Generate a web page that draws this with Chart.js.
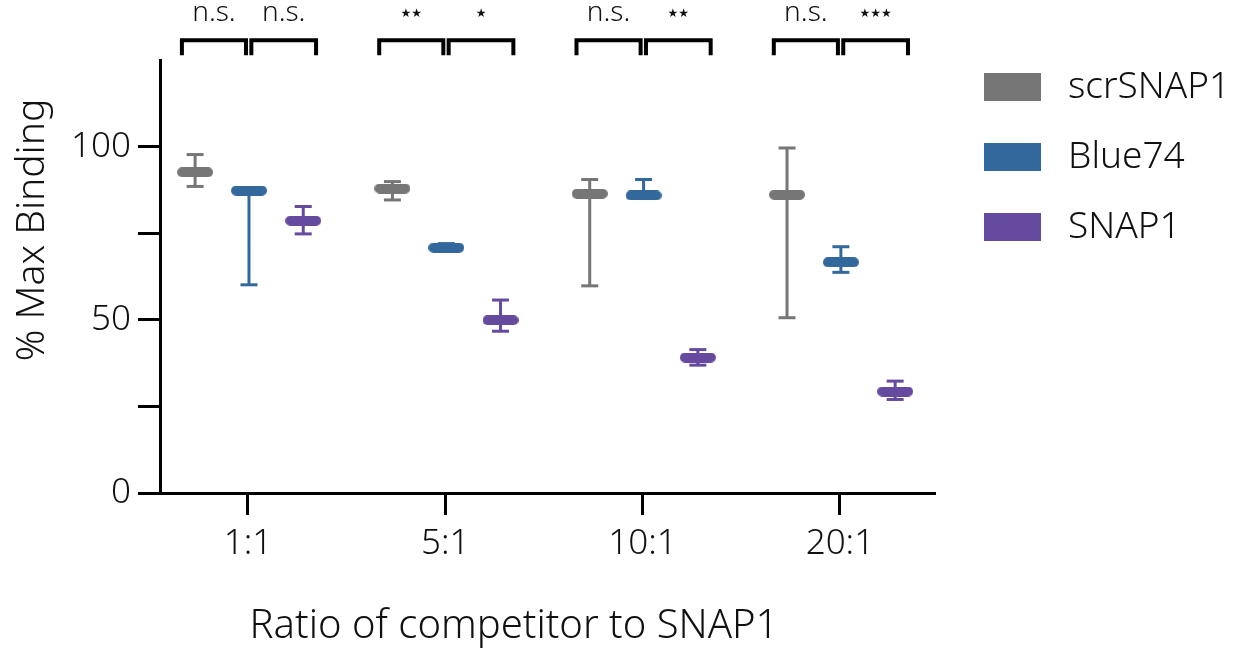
<!DOCTYPE html>
<html>
<head>
<meta charset="utf-8">
<script src="https://cdn.jsdelivr.net/npm/chart.js@4.4.1/dist/chart.umd.min.js"></script>
<style>
  html, body { margin: 0; padding: 0; background: #fff; }
  #wrap { width: 1246px; height: 651px; }
</style>
</head>
<body>
<div id="wrap"><canvas id="c" width="1246" height="651"></canvas></div>
<script>
// data
const ratios = ['1:1', '5:1', '10:1', '20:1'];
const seriesNames = ['scrSNAP1', 'Blue74', 'SNAP1'];
const seriesColors = ['#767676', '#33689c', '#664a9f'];

const scrMean = [92.6, 87.9, 86.4, 86.1];
const scrLow  = [88.5, 84.6, 59.8, 50.6];
const scrHigh = [97.7, 89.9, 90.5, 99.6];

const blueMean = [87.3, 70.8, 85.9, 66.6];
const blueLow  = [60.1, 70.3, 85.9, 63.7];
const blueHigh = [87.3, 72.0, 90.5, 71.1];

const snapMean = [78.6, 49.9, 39.1, 29.3];
const snapLow  = [74.8, 46.7, 36.9, 27.0];
const snapHigh = [82.7, 55.7, 41.4, 32.3];

// significance: [scr vs Blue74, Blue74 vs SNAP1] per ratio
const sigLabels = [['n.s.', 'n.s.'], ['**', '*'], ['n.s.', '**'], ['n.s.', '***']];

const yTicks = [0, 25, 50, 75, 100];
const xTitle = 'Ratio of competitor to SNAP1';
const yTitle = '% Max Binding';

const means = [scrMean, blueMean, snapMean];
const lows = [scrLow, blueLow, snapLow];
const highs = [scrHigh, blueHigh, snapHigh];
const offsets = [-0.268, 0.005, 0.28];

const FONT = "'Noto Sans', sans-serif";

// rounded pill used as the mean marker
function pill(color) {
  const cv = document.createElement('canvas');
  cv.width = 36; cv.height = 10;
  const g = cv.getContext('2d');
  g.fillStyle = color;
  g.beginPath();
  g.roundRect(0, 0, 36, 10, 5);
  g.fill();
  return cv;
}

const datasets = [];
// means first so they are drawn on top
means.forEach((m, s) => {
  datasets.push({
    type: 'scatter',
    label: seriesNames[s],
    data: m.map((v, i) => ({ x: i + offsets[s], y: v })),
    pointStyle: pill(seriesColors[s]),
    pointRadius: 5,
    order: 0
  });
});
means.forEach((m, s) => {
  const caps = [];
  const whisk = [];
  m.forEach((v, i) => {
    const x = i + offsets[s];
    caps.push({ x: x, y: lows[s][i] }, { x: x, y: highs[s][i] });
    whisk.push({ x: x, y: lows[s][i] }, { x: x, y: highs[s][i] }, { x: x + 0.01, y: null });
  });
  datasets.push({
    type: 'scatter',
    label: seriesNames[s] + ' caps',
    data: caps,
    pointStyle: 'line',
    pointRadius: 8.5,
    borderWidth: 3,
    borderColor: seriesColors[s],
    order: 1
  });
  datasets.push({
    type: 'line',
    label: seriesNames[s] + ' bars',
    data: whisk,
    spanGaps: false,
    borderWidth: 3,
    borderColor: seriesColors[s],
    pointRadius: 0,
    order: 2
  });
});

const bracketPlugin = {
  id: 'brackets',
  afterDraw(chart) {
    const { ctx } = chart;
    const xs = chart.scales.x, ys = chart.scales.y;
    const yTop = ys.getPixelForValue(130.7);
    const yLeg = ys.getPixelForValue(126.4);
    const yText = ys.getPixelForValue(136.2);
    const legs = [[-0.335, -0.01], [0.017, 0.345]];
    ctx.save();
    ctx.strokeStyle = '#000';
    ctx.lineWidth = 4;
    ratios.forEach((r, i) => {
      legs.forEach((lg, k) => {
        const x1 = xs.getPixelForValue(i + lg[0]);
        const x2 = xs.getPixelForValue(i + lg[1]);
        ctx.beginPath();
        ctx.moveTo(x1, yLeg);
        ctx.lineTo(x1, yTop);
        ctx.lineTo(x2, yTop);
        ctx.lineTo(x2, yLeg);
        ctx.stroke();
        const lab = sigLabels[i][k];
        const cx = (x1 + x2) / 2;
        ctx.fillStyle = '#111';
        ctx.textAlign = 'center';
        if (lab === 'n.s.') {
          ctx.font = '300 28px ' + FONT;
          ctx.textBaseline = 'alphabetic';
          ctx.fillText(lab, cx, yText);
        } else {
          ctx.font = "12px 'DejaVu Sans'";
          ctx.textBaseline = 'middle';
          ctx.fillText('\u2605'.repeat(lab.length), cx, yText - 7);
        }
      });
    });
    ctx.restore();
  }
};

// axis titles and legend, placed as in the figure
const decorPlugin = {
  id: 'decor',
  afterDraw(chart) {
    const { ctx } = chart;
    ctx.save();
    ctx.fillStyle = '#111';
    ctx.textAlign = 'center';
    ctx.textBaseline = 'middle';
    ctx.font = '300 40px ' + FONT;
    ctx.fillText(xTitle, 514, 627);
    ctx.save();
    ctx.translate(33, 230);
    ctx.rotate(-Math.PI / 2);
    ctx.font = '300 39px ' + FONT;
    ctx.fillText(yTitle, 0, 0);
    ctx.restore();

    seriesNames.forEach((n, s) => {
      const cy = 87 + s * 70;
      ctx.fillStyle = seriesColors[s];
      ctx.fillRect(984, cy - 14, 57, 28);
      ctx.fillStyle = '#111';
      ctx.font = '300 37px ' + FONT;
      ctx.textAlign = 'left';
      ctx.fillText(n, 1068, cy);
    });
    ctx.restore();
  }
};

new Chart(document.getElementById('c'), {
  data: { datasets: datasets },
  options: {
    responsive: false,
    animation: false,
    layout: { padding: { left: 0, top: 60, right: 311, bottom: 0 } },
    plugins: {
      legend: { display: false },
      tooltip: { enabled: false }
    },
    scales: {
      x: {
        type: 'linear',
        min: -0.446,
        max: 3.482,
        afterBuildTicks: (scale) => { scale.ticks = ratios.map((r, i) => ({ value: i })); },
        afterFit: (scale) => { scale.height = 158; },
        border: { display: true, color: '#000', width: 3 },
        grid: { drawOnChartArea: false, drawTicks: true, tickLength: 22, tickWidth: 3, color: '#000' },
        ticks: {
          callback: (v) => ratios[v],
          font: { family: FONT, size: 35, weight: 300 },
          color: '#111',
          padding: 8,
          maxRotation: 0
        }
      },
      y: {
        min: 0,
        max: 125,
        afterBuildTicks: (scale) => { scale.ticks = yTicks.map(v => ({ value: v })); },
        afterFit: (scale) => { scale.width = 160; },
        border: { display: true, color: '#000', width: 3 },
        grid: { drawOnChartArea: false, drawTicks: true, tickLength: 22, tickWidth: 3, color: '#000' },
        ticks: {
          callback: (v) => (v % 50 === 0 ? String(v) : ''),
          font: { family: FONT, size: 35, weight: 300 },
          color: '#111',
          padding: 7
        }
      }
    }
  },
  plugins: [bracketPlugin, decorPlugin]
});
</script>
</body>
</html>
